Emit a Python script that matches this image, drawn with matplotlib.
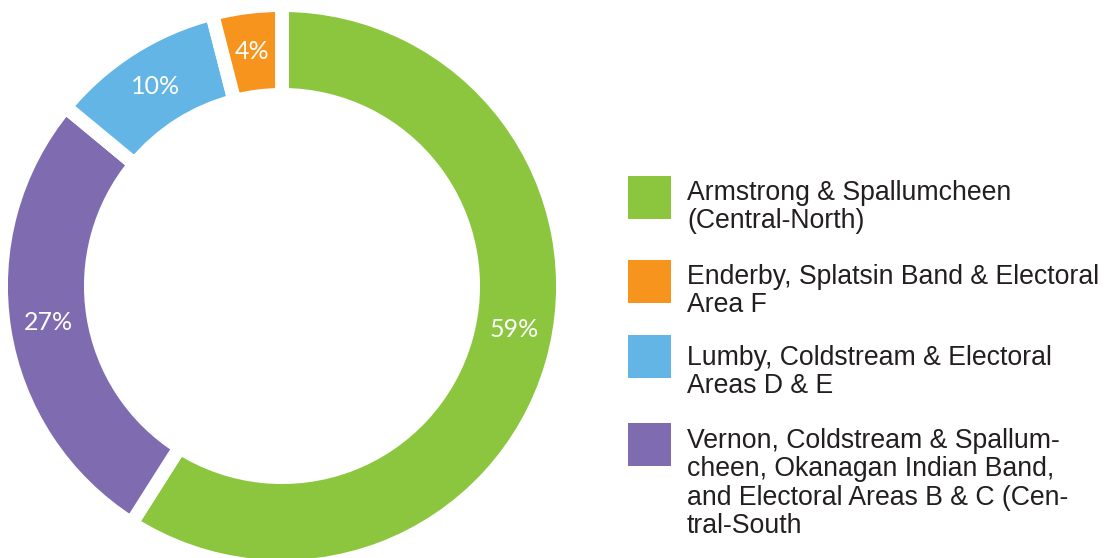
import matplotlib
matplotlib.use("Agg")
import matplotlib.pyplot as plt
from matplotlib.patches import Rectangle
import numpy as np

categories = [
    "Armstrong & Spallumcheen\n(Central-North)",
    "Enderby, Splatsin Band & Electoral\nArea F",
    "Lumby, Coldstream & Electoral\nAreas D & E",
    "Vernon, Coldstream & Spallum-\ncheen, Okanagan Indian Band,\nand Electoral Areas B & C (Cen-\ntral-South",
]
values = [59, 4, 10, 27]
colors = ["#8CC63F", "#F7941D", "#62B5E5", "#7E6BB0"]

# pie drawn clockwise from top: green, purple, blue, orange
order = [0, 3, 2, 1]
pie_vals = [values[i] for i in order]
pie_cols = [colors[i] for i in order]

W, H = 1106, 558
fig = plt.figure(figsize=(W / 100, H / 100), dpi=100)

cx, cy, R = 282, 286, 281
ax = fig.add_axes([(cx - R) / W, (H - cy - R) / H, 2 * R / W, 2 * R / H])
wedges, texts, autotexts = ax.pie(
    pie_vals, colors=pie_cols, startangle=90, counterclock=False, radius=1,
    wedgeprops=dict(width=0.32, edgecolor="white", linewidth=10),
    autopct=lambda p: f"{p:.0f}%", pctdistance=0.84,
    textprops=dict(color="white", fontsize=18, family="Lato", weight="normal"),
)
ax.set_xlim(-1, 1)
ax.set_ylim(-1, 1)
ax.set_aspect("equal")
ax.axis("off")

# nudge the big green label a bit up along the ring
ang = np.deg2rad(-10.5)
autotexts[0].set_position((0.84 * np.cos(ang), 0.84 * np.sin(ang)))

# legend
box_x, box_w = 628, 43
text_x = 687
box_tops = [176, 260, 335, 423]
last_baselines = [228, 312, 393, 533]
for i, (lab, col) in enumerate(zip(categories, colors)):
    top = box_tops[i]
    fig.patches.append(Rectangle((box_x / W, 1 - (top + box_w) / H), box_w / W, box_w / H,
                                 transform=fig.transFigure, facecolor=col, edgecolor="none"))
    fig.text(text_x / W, 1 - last_baselines[i] / H, lab, ha="left", va="baseline",
             fontsize=19.2, family="Liberation Sans", color="#231F20", linespacing=1.12)

fig.savefig("out.png", dpi=100)
